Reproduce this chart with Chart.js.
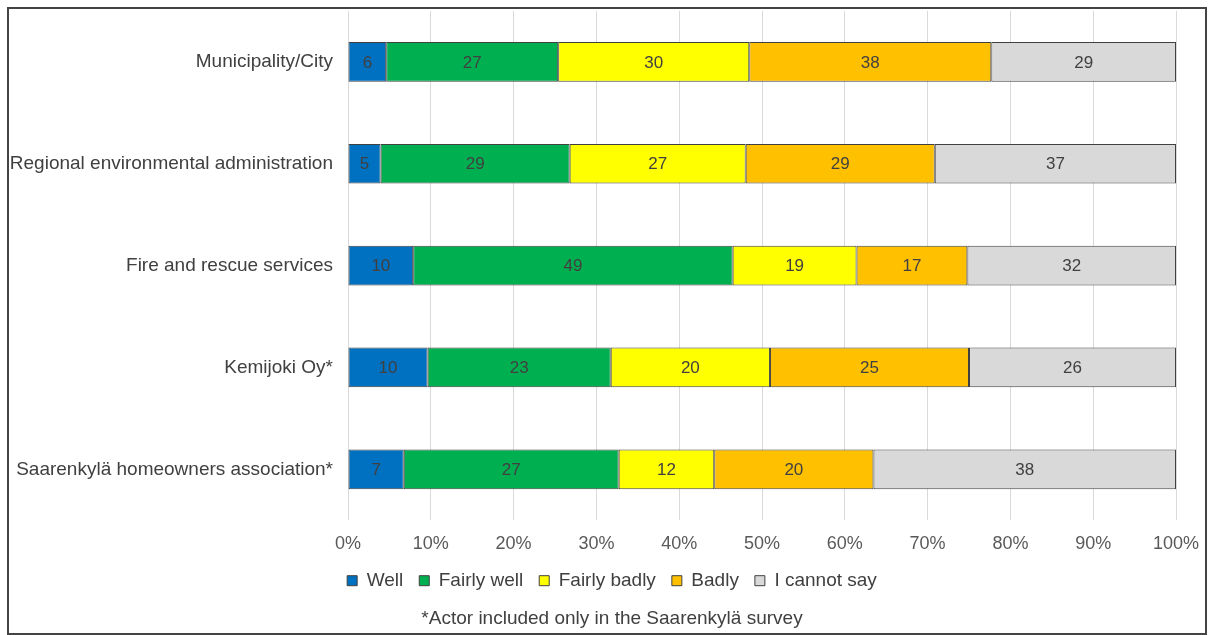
<!DOCTYPE html>
<html>
<head>
<meta charset="utf-8">
<script src="https://cdn.jsdelivr.net/npm/chart.js@4"></script>
<style>
  html, body { margin: 0; padding: 0; background: #fff; }
  #wrap { position: relative; width: 1208px; height: 635px; }
  #frame { position: absolute; left: 7px; top: 7px; width: 1196px; height: 624px; border: 2px solid #444; pointer-events: none; }
</style>
</head>
<body>
<div id="wrap">
  <canvas id="myChart" width="1208" height="635"></canvas>
  <div id="frame"></div>
</div>
<script>
const actors = [
  "Municipality/City",
  "Regional environmental administration",
  "Fire and rescue services",
  "Kemijoki Oy*",
  "Saarenkylä homeowners association*"
];
const well = [6, 5, 10, 10, 7];
const fairlyWell = [27, 29, 49, 23, 27];
const fairlyBadly = [30, 27, 19, 20, 12];
const badly = [38, 29, 17, 25, 20];
const cannotSay = [29, 37, 32, 26, 38];
const xTicks = [0, 10, 20, 30, 40, 50, 60, 70, 80, 90, 100];
const footnote = "*Actor included only in the Saarenkylä survey";

const series = [
  { label: "Well", counts: well, color: "#0070C0" },
  { label: "Fairly well", counts: fairlyWell, color: "#00B050" },
  { label: "Fairly badly", counts: fairlyBadly, color: "#FFFF00" },
  { label: "Badly", counts: badly, color: "#FFC000" },
  { label: "I cannot say", counts: cannotSay, color: "#D9D9D9" }
];

// row totals, so each bar fills 100%
const totals = actors.map((_, i) => series.reduce((s, d) => s + d.counts[i], 0));

const font = "'Liberation Sans', Arial, sans-serif";

// counts written in the middle of each segment
const segmentLabels = {
  id: "segmentLabels",
  afterDatasetsDraw(chart) {
    const ctx = chart.ctx;
    ctx.save();
    ctx.font = "17px " + font;
    ctx.fillStyle = "#404040";
    ctx.textAlign = "center";
    ctx.textBaseline = "middle";
    chart.data.datasets.forEach((ds, di) => {
      chart.getDatasetMeta(di).data.forEach((bar, i) => {
        ctx.fillText(ds.counts[i], (bar.x + bar.base) / 2, bar.y + 1);
      });
    });
    ctx.restore();
  }
};

// legend and footnote sit a bit right of the canvas centre
const shiftBottom = {
  id: "shiftBottom",
  afterUpdate(chart) {
    const dx = 24;
    [chart.legend, chart.titleBlock].forEach(b => { b.left += dx; b.right += dx; });
    chart.legend.adjustHitBoxes();
  }
};

const ctx = document.querySelector("#myChart");

const myChart = new Chart(ctx, {
  type: "bar",
  data: {
    labels: actors,
    datasets: series.map((s, k) => ({
      label: s.label,
      counts: s.counts,
      data: s.counts.map((v, i) => (v / totals[i]) * 100),
      backgroundColor: s.color,
      borderColor: "#404040",
      borderWidth: 1,
      borderSkipped: false,
      categoryPercentage: 1,
      barPercentage: 0.39,
    })),
  },
  options: {
    indexAxis: "y",
    responsive: false,
    animation: false,
    layout: { padding: { top: 11, right: 32, bottom: 0, left: 0 } },
    scales: {
      x: {
        stacked: true,
        min: 0,
        max: 100,
        afterBuildTicks(scale) {
          scale.ticks = xTicks.map(v => ({ value: v }));
        },
        afterFit(scale) {
          scale.paddingLeft = 0;
          scale.paddingRight = 0;
          scale.height = 35;
        },
        grid: { color: "#D9D9D9", drawTicks: false },
        border: { display: false },
        ticks: {
          padding: 13,
          color: "#595959",
          font: { family: font, size: 18 },
          callback: v => v + "%",
        },
      },
      y: {
        stacked: true,
        grid: { display: false, drawTicks: false },
        border: { display: false },
        afterFit(scale) {
          scale.width = 348;
          scale.paddingTop = 0;
          scale.paddingBottom = 0;
        },
        ticks: {
          padding: 15,
          color: "#404040",
          font: { family: font, size: 19 },
        },
      },
    },
    plugins: {
      legend: {
        position: "bottom",
        labels: {
          boxWidth: 10,
          boxHeight: 10,
          padding: 16,
          color: "#404040",
          font: { family: font, size: 19 },
        },
      },
      title: {
        display: true,
        position: "bottom",
        text: footnote,
        color: "#404040",
        font: { family: font, size: 19, weight: "normal" },
        padding: { top: 7, bottom: 5 },
      },
      tooltip: { enabled: false },
    },
  },
  plugins: [segmentLabels, shiftBottom],
});
</script>
</body>
</html>
